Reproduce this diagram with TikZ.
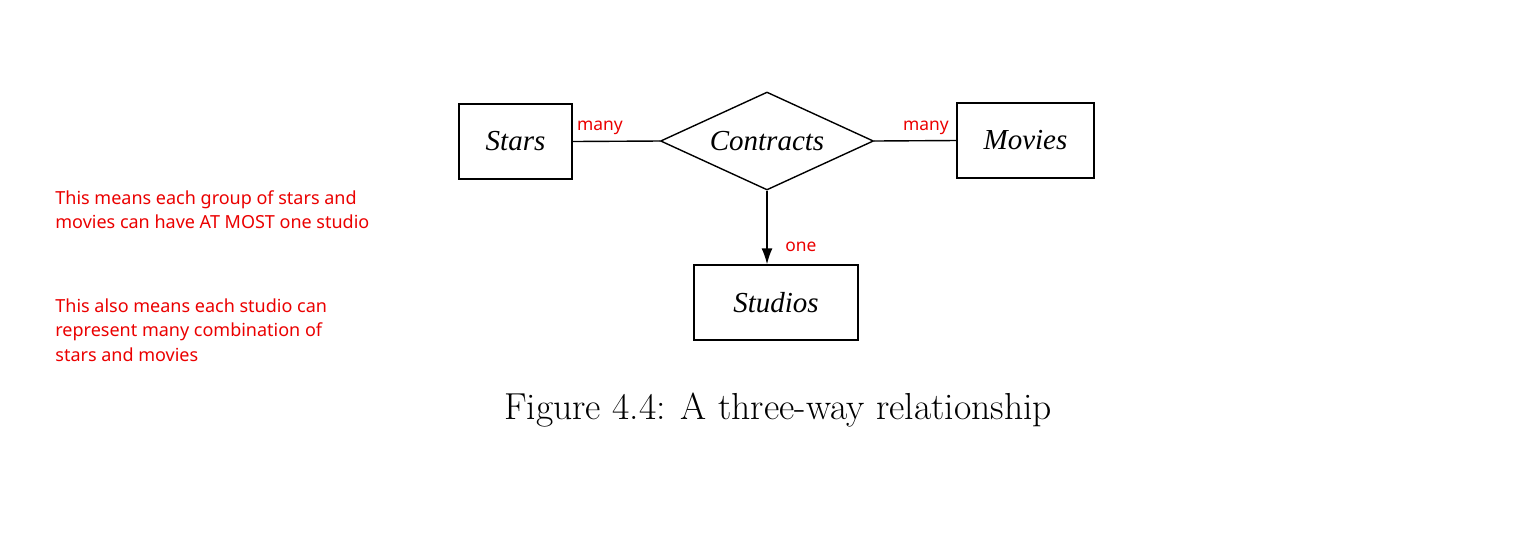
\documentclass[tikz,border=0pt]{standalone}
\usepackage{fontspec}
\usetikzlibrary{shapes.geometric,arrows.meta}
\newfontfamily\annfont{Noto Sans}
\newfontfamily\entfont{Liberation Serif}
\definecolor{annred}{RGB}{235,0,0}
\tikzset{
  entity/.style={draw, line width=0.7pt, minimum width=#1, minimum height=37.5pt, inner sep=0pt, font=\entfont\itshape\fontsize{14.5}{16}\selectfont},
  rel/.style={draw, diamond, aspect=2.17, line width=0.7pt, minimum width=106.5pt, minimum height=49pt, inner sep=0pt, font=\entfont\itshape\fontsize{14.5}{16}\selectfont},
  card/.style={text=annred, font=\annfont\fontsize{8.7}{10}\selectfont, inner sep=0pt},
  note/.style={text=annred, font=\annfont\fontsize{9}{12.3}\selectfont, align=left, anchor=north west, inner sep=0pt},
  conn/.style={line width=0.7pt}
}
\begin{document}
\begin{tikzpicture}[x=0.5pt,y=-0.5pt]
\useasboundingbox[fill=white] (0,0) rectangle (1518,532);
\node[entity=56.5pt] (stars) at (515.5,141.5) {Stars};
\node[rel] (contracts) at (767,141) {Contracts};
\node[entity=68.5pt] (movies) at (1025.5,140.5) {Movies};
\node[entity=82pt] (studios) at (776,302.5) {Studios};
\draw[conn] (stars.east) -- (contracts.west);
\draw[conn] (contracts.east) -- (movies.west);
\draw[conn, -{Latex[length=8pt,width=5.5pt]}] (contracts.south) -- (contracts.south |- studios.north);
\node[card] (m1) at (600,128) {many};
\node[card] (m2) at (926,128) {many};
\node[card] (o1) at (801,247) {one};
\node[note] (n1) at (55,190) {This means each group of stars and\\movies can have AT MOST one studio};
\node[note] (n2) at (55,298) {This also means each studio can\\represent many combination of\\stars and movies};
\node[font=\fontsize{18.8}{21}\selectfont, inner sep=0pt] (cap) at (778,410) {Figure 4.4: A three-way relationship};
\end{tikzpicture}
\end{document}
